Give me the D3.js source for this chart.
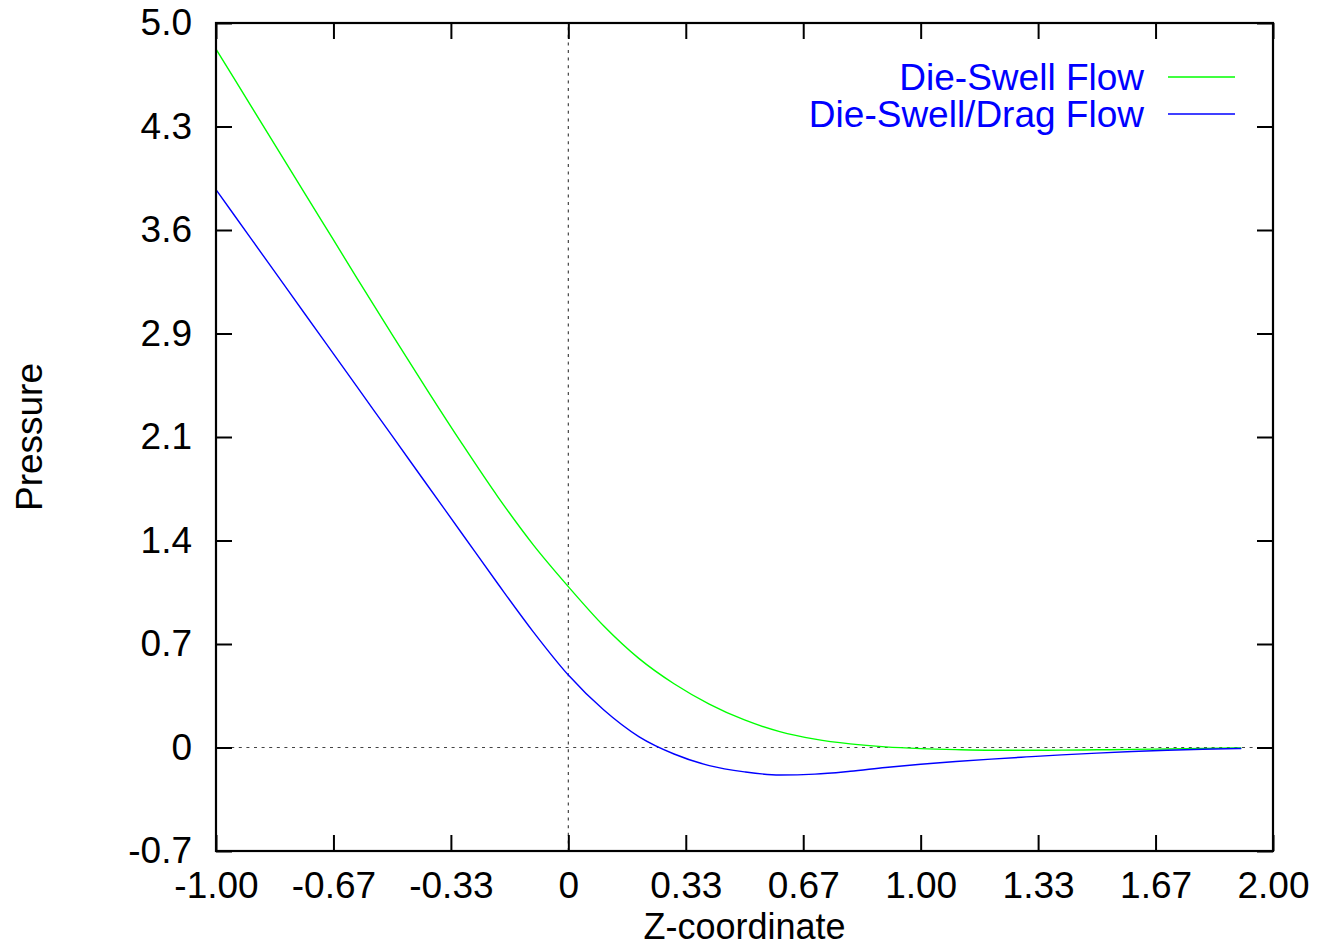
<!DOCTYPE html>
<html>
<head>
<meta charset="utf-8">
<script src="https://cdn.jsdelivr.net/npm/d3@7"></script>
<style>
  html, body { margin: 0; padding: 0; background: #fff; }
  svg { display: block; font-family: "Liberation Sans", Arial, Helvetica, sans-serif; }
</style>
</head>
<body>
<svg id="chart" width="1330" height="947"></svg>
<script>
// Axial pressure profiles along the die (Z-coordinate)
const zValues = [-1.0, -0.9, -0.8, -0.7, -0.6, -0.5, -0.4, -0.3, -0.2, -0.1, 0.0,
                 0.1, 0.2, 0.3, 0.4, 0.5, 0.6, 0.7, 0.8, 0.9, 1.0,
                 1.1, 1.2, 1.3, 1.4, 1.5, 1.6, 1.7, 1.8, 1.91];
const dieSwell = [4.82, 4.425, 4.03, 3.635, 3.24, 2.85, 2.465, 2.09, 1.73, 1.40, 1.11,
                  0.84, 0.615, 0.44, 0.30, 0.19, 0.11, 0.058, 0.025, 0.004, -0.008,
                  -0.015, -0.019, -0.019, -0.018, -0.016, -0.013, -0.010, -0.006, -0.003];
const dieSwellDrag = [3.85, 3.51, 3.17, 2.83, 2.49, 2.15, 1.81, 1.47, 1.13, 0.80, 0.50,
                      0.26, 0.075, -0.045, -0.125, -0.168, -0.19, -0.184, -0.164, -0.138, -0.116,
                      -0.097, -0.080, -0.065, -0.051, -0.039, -0.028, -0.019, -0.012, -0.007];

const seriesNames = ["Die-Swell Flow", "Die-Swell/Drag Flow"];
const seriesColors = ["#00ff00", "#0000ff"];

const xTickLabels = ["-1.00", "-0.67", "-0.33", "0", "0.33", "0.67", "1.00", "1.33", "1.67", "2.00"];
const yTickLabels = ["-0.7", "0", "0.7", "1.4", "2.1", "2.9", "3.6", "4.3", "5.0"];

const xMin = -1, xMax = 2;
const yMin = -5 / 7, yMax = 5;

const xTicks = xTickLabels.map((_, i) => xMin + i * (xMax - xMin) / (xTickLabels.length - 1));
const yTicks = yTickLabels.map((_, i) => yMin + i * (yMax - yMin) / (yTickLabels.length - 1));

const margin = { left: 216, top: 23, right: 1273, bottom: 851 };
const svg = d3.select("#chart");

const x = d3.scaleLinear().domain([xMin, xMax]).range([margin.left, margin.right]);
const y = d3.scaleLinear().domain([yMin, yMax]).range([margin.bottom, margin.top]);

const fontSize = 37;
const tickLen = 16;

// Zero reference lines (dotted)
svg.append("line")
  .attr("x1", x(0)).attr("x2", x(0))
  .attr("y1", y(yMin)).attr("y2", y(yMax))
  .attr("stroke", "#444").attr("stroke-width", 1.2)
  .attr("stroke-dasharray", "3,4.6");
svg.append("line")
  .attr("x1", x(xMin)).attr("x2", x(xMax))
  .attr("y1", y(0)).attr("y2", y(0))
  .attr("stroke", "#444").attr("stroke-width", 1.2)
  .attr("stroke-dasharray", "3,4.6");

// Curves
const line = d3.line()
  .x((d) => x(d[0]))
  .y((d) => y(d[1]))
  .curve(d3.curveMonotoneX);

[dieSwell, dieSwellDrag].forEach((vals, i) => {
  svg.append("path")
    .datum(zValues.map((z, j) => [z, vals[j]]))
    .attr("fill", "none")
    .attr("stroke", seriesColors[i])
    .attr("stroke-width", 1.4)
    .attr("d", line);
});

// Axes: inward ticks on all four sides, labels on bottom and left
function styleAxis(g) {
  g.select(".domain").remove();
  g.selectAll(".tick line").attr("stroke", "#000").attr("stroke-width", 2);
  g.selectAll(".tick text")
    .attr("fill", "#000")
    .style("font-size", fontSize + "px")
    .style("font-family", "\"Liberation Sans\", Arial, Helvetica, sans-serif");
}

svg.append("g")
  .attr("transform", `translate(0,${margin.bottom})`)
  .call(d3.axisBottom(x).tickValues(xTicks).tickSize(-tickLen).tickPadding(21)
    .tickFormat((d, i) => xTickLabels[i]))
  .call(styleAxis);

svg.append("g")
  .attr("transform", `translate(0,${margin.top})`)
  .call(d3.axisTop(x).tickValues(xTicks).tickSize(-tickLen).tickFormat(""))
  .call(styleAxis);

svg.append("g")
  .attr("transform", `translate(${margin.left},0)`)
  .call(d3.axisLeft(y).tickValues(yTicks).tickSize(-tickLen).tickPadding(24)
    .tickFormat((d, i) => yTickLabels[i]))
  .call(styleAxis);

svg.append("g")
  .attr("transform", `translate(${margin.right},0)`)
  .call(d3.axisRight(y).tickValues(yTicks).tickSize(-tickLen).tickFormat(""))
  .call(styleAxis);

// Plot frame
svg.append("rect")
  .attr("x", margin.left).attr("y", margin.top)
  .attr("width", margin.right - margin.left)
  .attr("height", margin.bottom - margin.top)
  .attr("fill", "none").attr("stroke", "#000").attr("stroke-width", 2.2);

// Axis titles
svg.append("text")
  .attr("x", (margin.left + margin.right) / 2)
  .attr("y", 939)
  .attr("text-anchor", "middle")
  .style("font-size", "36px")
  .text("Z-coordinate");

svg.append("text")
  .attr("transform", `translate(42,${(margin.top + margin.bottom) / 2}) rotate(-90)`)
  .attr("text-anchor", "middle")
  .style("font-size", fontSize + "px")
  .text("Pressure");

// Legend
const legend = svg.append("g");
seriesNames.forEach((name, i) => {
  const cy = 77 + i * 37;
  legend.append("text")
    .attr("x", 1144).attr("y", cy)
    .attr("dy", "0.35em")
    .attr("text-anchor", "end")
    .attr("fill", "#0000ff")
    .style("font-size", fontSize + "px")
    .text(name);
  legend.append("line")
    .attr("x1", 1168).attr("x2", 1235)
    .attr("y1", cy).attr("y2", cy)
    .attr("stroke", seriesColors[i]).attr("stroke-width", 1.4);
});
</script>
</body>
</html>
